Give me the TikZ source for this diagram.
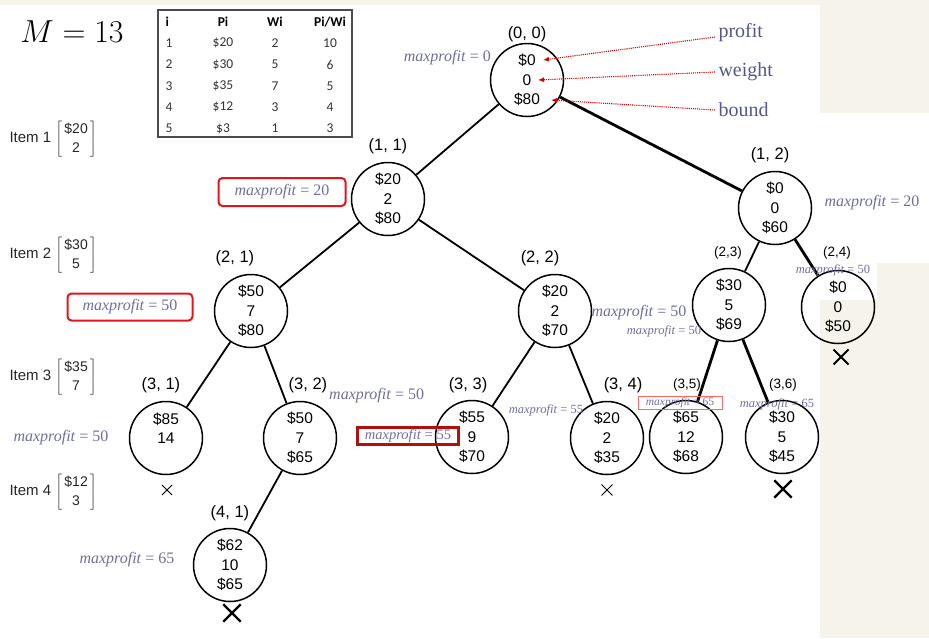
\documentclass[tikz,border=0pt]{standalone}
\usepackage{fontspec}
\setmainfont{Liberation Serif}
\setsansfont{Liberation Sans}
\newfontfamily\tabfont{Carlito}
\usetikzlibrary{shapes.misc,arrows.meta}
\definecolor{mpgray}{HTML}{6E6E9C}
\definecolor{tagblue}{HTML}{56568A}
\definecolor{paper}{HTML}{F6F4EA}
\definecolor{boxred}{HTML}{E3141C}
\definecolor{darkbox}{HTML}{B01010}
\newcommand{\mpval}[1]{\textit{maxprofit} = #1}
\newcommand{\itemvec}[3]{Item #1 {\renewcommand{\arraystretch}{1.15}$\left[\begin{array}{@{\,}c@{\,}}\mbox{\fontsize{14}{15}\selectfont\$#2}\\ \mbox{\fontsize{14}{15}\selectfont #3}\end{array}\right]$}}
\tikzset{
  state/.style={circle,draw=black,line width=1.5pt,minimum size=73pt,inner sep=0pt,align=center,
    font=\sffamily\fontsize{15.5}{19.5}\selectfont},
  idxlbl/.style={font=\sffamily\fontsize{16.5}{18}\selectfont},
  hand/.style={font=\sffamily\fontsize{13.5}{15}\selectfont},
  mp/.style={text=mpgray,font=\fontsize{16}{18}\selectfont,inner sep=1pt},
  mpsmall/.style={text=mpgray,font=\fontsize{12.5}{14}\selectfont,inner sep=1pt},
  edge/.style={line width=1.8pt},
  bold edge/.style={line width=2.8pt},
  cut/.style={cross out,draw=black,inner sep=0pt},
  tag/.style={text=tagblue,font=\fontsize{20}{22}\selectfont,anchor=west},
  hint/.style={red!85!black,densely dotted,line width=1.1pt,-{Latex[length=6pt,width=5pt]}},
  tab/.style={font=\tabfont\fontsize{13.5}{15}\selectfont,text=black!80},
  tabhead/.style={font=\tabfont\bfseries\fontsize{13.5}{15}\selectfont,text=black},
  itemlbl/.style={font=\sffamily\fontsize{15}{17}\selectfont,anchor=west,text=black!85}
}
\begin{document}
\begin{tikzpicture}[x=1pt,y=-1pt]
\useasboundingbox (0,0) rectangle (929,638);
% paper patches
\fill[paper] (0,0) rectangle (929,5);
\fill[paper] (820,0) rectangle (929,113);
\fill[paper] (877,263) rectangle (929,638);
\fill[paper] (820,300) rectangle (929,638);

% capacity and table
\node[scale=1.28] (cap) at (72,32) {\fontsize{30}{34}\selectfont $M = 13$};
\draw[gray!60!black,line width=1.2pt] (158,10) rectangle (352,137);
\node[tabhead,anchor=west] (hi) at (162,22) {i};
\node[tabhead] (hp) at (223,22) {Pi};
\node[tabhead] (hw) at (275,22) {Wi};
\node[tabhead] (hr) at (330,22) {Pi/Wi};
\foreach \i/\p/\w/\r in {1/20/2/10,2/30/5/6,3/35/7/5,4/12/3/4,5/3/1/3}{
  \node[tab,anchor=west] (ti\i) at (162,{22+21.3*\i}) {\i};
  \node[tab] (tp\i) at (223,{22+21.3*\i}) {\$\p};
  \node[tab] (tw\i) at (275,{22+21.3*\i}) {\w};
  \node[tab] (tr\i) at (330,{22+21.3*\i}) {\r};
}

% items
\node[itemlbl] (it1) at (6,139) {\itemvec{1}{20}{2}};
\node[itemlbl] (it2) at (6,255) {\itemvec{2}{30}{5}};
\node[itemlbl] (it3) at (6,377) {\itemvec{3}{35}{7}};
\node[itemlbl] (it4) at (6,492) {\itemvec{4}{12}{3}};

% tree
\node[state] (s00) at (527,80) {\$0\\0\\\$80};
\node[state] (s11) at (388,199) {\$20\\2\\\$80};
\node[state] (s12) at (775,208) {\$0\\0\\\$60};
\node[state] (s21) at (251,311) {\$50\\7\\\$80};
\node[state] (s22) at (555,311) {\$20\\2\\\$70};
\node[state] (s23) at (729,305) {\$30\\5\\\$69};
\node[state] (s24) at (838,307) {\$0\\0\\\$50};
\node[state] (s31) at (166,438) {\$85\\14\\~};
\node[state] (s32) at (300,438) {\$50\\7\\\$65};
\node[state] (s33) at (472,437) {\$55\\9\\\$70};
\node[state] (s34) at (607,438) {\$20\\2\\\$35};
\node[state] (s35) at (686,437) {\$65\\12\\\$68};
\node[state] (s36) at (782,437) {\$30\\5\\\$45};
\node[state] (s41) at (230,565) {\$62\\10\\\$65};

\node[idxlbl] (p00) at (527,34) {(0, 0)};
\node[idxlbl] (p11) at (388,146) {(1, 1)};
\node[idxlbl] (p12) at (770,155) {(1, 2)};
\node[idxlbl] (p21) at (235,258) {(2, 1)};
\node[idxlbl] (p22) at (540,258) {(2, 2)};
\node[hand] (p23) at (728,253) {(2,3)};
\node[hand] (p24) at (837,253) {(2,4)};
\node[idxlbl] (p31) at (161,385) {(3, 1)};
\node[idxlbl] (p32) at (308,385) {(3, 2)};
\node[idxlbl] (p33) at (468,385) {(3, 3)};
\node[idxlbl] (p34) at (623,385) {(3, 4)};
\node[hand] (p35) at (687,385) {(3,5)};
\node[hand] (p36) at (783,385) {(3,6)};
\node[idxlbl] (p41) at (230,513) {(4, 1)};

\draw[edge] (s00) -- (s11);
\draw[bold edge] (s00) -- (s12);
\draw[edge] (s11) -- (s21);
\draw[edge] (s11) -- (s22);
\draw[edge] (s12) -- (s23);
\draw[bold edge] (s12) -- (s24);
\draw[edge] (s21) -- (s31);
\draw[edge] (s21) -- (s32);
\draw[edge] (s22) -- (s33);
\draw[edge] (s22) -- (s34);
\draw[bold edge] (s23) -- (s35);
\draw[bold edge] (s23) -- (s36);
\draw[edge] (s32) -- (s41);

% maxprofit notes
\node[mp,anchor=east] (m00) at (492,58) {\mpval{0}};
\node[mp,draw=boxred,line width=2pt,rounded corners=4pt,minimum width=127pt,minimum height=28pt] (m11) at (282,192) {\mpval{20}};
\node[mp] (m12) at (872,203) {\mpval{20}};
\node[mp,draw=boxred,line width=2pt,rounded corners=4pt,minimum width=125pt,minimum height=27pt] (m21) at (130,307) {\mpval{50}};
\node[mp] (m22) at (639,313) {\mpval{50}};
\node[mpsmall] (m23) at (664,331) {\mpval{50}};
\node[mpsmall] (m24) at (833,270) {\mpval{50}};
\node[mp] (m31) at (61,438) {\mpval{50}};
\node[mp,anchor=west] (m32) at (328,396) {\mpval{50}};
\node[mp,draw=darkbox,line width=2.2pt,minimum width=101pt,minimum height=17pt,inner sep=0pt,font=\fontsize{14.5}{16}\selectfont] (m33) at (408,436) {\mpval{55}};
\node[mpsmall] (m34) at (546,410) {\mpval{55}};
\node[mpsmall,draw=red!60,line width=0.8pt,minimum width=84pt,minimum height=13pt,inner sep=0pt,font=\fontsize{11.5}{13}\selectfont] (m35) at (680,403) {\mpval{65}};
\node[mpsmall] (m36) at (777,404) {\mpval{65}};
\node[mp] (m41) at (127,560) {\mpval{65}};

% pruned
\node[cut,line width=0.9pt,minimum size=9pt] (x31) at (167,490) {};
\node[cut,line width=0.9pt,minimum size=10pt] (x34) at (607,490) {};
\node[cut,line width=2pt,minimum size=13pt] (x24) at (841,357) {};
\node[cut,line width=2.4pt,minimum size=15pt] (x36) at (783,489) {};
\node[cut,line width=2.4pt,minimum size=15pt] (x41) at (232,613) {};

% legend for the root
\node[tag] (tprofit) at (715,33) {profit};
\node[tag] (tweight) at (715,72) {weight};
\node[tag] (tbound) at (715,110) {bound};
\coordinate (aprofit) at (543,60);
\coordinate (aweight) at (538,80);
\coordinate (abound) at (551,100);
\draw[hint] ([yshift=-4pt]tprofit.west) -- (aprofit);
\draw[hint] (tweight.west) -- (aweight);
\draw[hint] (tbound.west) -- (abound);
\end{tikzpicture}
\end{document}
